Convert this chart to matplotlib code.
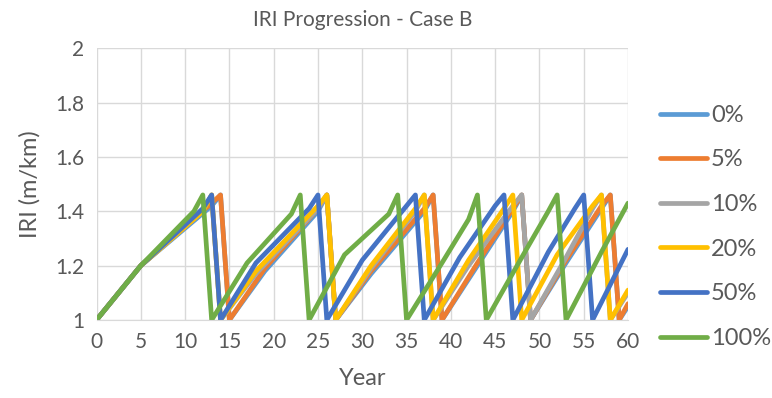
import matplotlib
matplotlib.use("Agg")
import matplotlib.pyplot as plt

# IRI progression per traffic growth scenario
labels = ["0%", "5%", "10%", "20%", "50%", "100%"]
colors = ["#5B9BD5", "#ED7D31", "#A5A5A5", "#FFC000", "#4472C4", "#70AD47"]

yr_0 = [0, 5, 13, 14, 15, 19, 25, 26, 27, 31, 37, 38, 39, 43, 47, 48, 49, 53, 57, 58, 59, 60]
iri_0 = [1.0, 1.2, 1.42, 1.46, 1.0, 1.18, 1.40, 1.46, 1.0, 1.17, 1.40, 1.46, 1.0, 1.20, 1.40, 1.46,
         1.0, 1.21, 1.41, 1.46, 1.0, 1.05]

yr_5 = [0, 5, 13, 14, 15, 19, 25, 26, 27, 31, 37, 38, 39, 43, 47, 48, 49, 53, 57, 58, 59, 60]
iri_5 = [1.0, 1.2, 1.43, 1.46, 1.0, 1.19, 1.41, 1.46, 1.0, 1.18, 1.41, 1.46, 1.0, 1.21, 1.41, 1.46,
         1.0, 1.22, 1.42, 1.46, 1.0, 1.06]

yr_10 = [0, 5, 12, 13, 14, 18, 25, 26, 27, 31, 36, 37, 38, 42, 47, 48, 49, 53, 56, 57, 58, 60]
iri_10 = [1.0, 1.2, 1.40, 1.46, 1.0, 1.17, 1.41, 1.46, 1.0, 1.19, 1.40, 1.46, 1.0, 1.20, 1.42, 1.46,
          1.0, 1.23, 1.41, 1.46, 1.0, 1.10]

yr_20 = [0, 5, 12, 13, 14, 18, 25, 26, 27, 31, 36, 37, 38, 42, 46, 47, 48, 52, 56, 57, 58, 60]
iri_20 = [1.0, 1.2, 1.40, 1.46, 1.0, 1.18, 1.42, 1.46, 1.0, 1.20, 1.41, 1.46, 1.0, 1.22, 1.41, 1.46,
          1.0, 1.24, 1.42, 1.46, 1.0, 1.11]

yr_50 = [0, 5, 12, 13, 14, 18, 24, 25, 26, 30, 35, 36, 37, 41, 45, 46, 47, 51, 54, 55, 56, 60]
iri_50 = [1.0, 1.2, 1.41, 1.46, 1.0, 1.21, 1.41, 1.46, 1.0, 1.22, 1.42, 1.46, 1.0, 1.23, 1.42, 1.46,
          1.0, 1.25, 1.41, 1.46, 1.0, 1.26]

yr_100 = [0, 5, 11, 12, 13, 17, 22, 23, 24, 28, 33, 34, 35, 39, 42, 43, 44, 48, 51, 52, 53, 57, 60]
iri_100 = [1.0, 1.2, 1.40, 1.46, 1.0, 1.21, 1.39, 1.46, 1.0, 1.24, 1.39, 1.46, 1.0, 1.21, 1.37, 1.46,
           1.0, 1.23, 1.40, 1.46, 1.0, 1.25, 1.43]

years = [yr_0, yr_5, yr_10, yr_20, yr_50, yr_100]
iri = [iri_0, iri_5, iri_10, iri_20, iri_50, iri_100]

plt.rcParams['font.family'] = ['Lato', 'DejaVu Sans']
text_col = "#595959"

fig = plt.figure(figsize=(7.72, 3.98), dpi=100)
ax = fig.add_axes([0.125, 0.196, 0.6885, 0.683])

for x, y, c, lab in zip(years, iri, colors, labels):
    ax.plot(x, y, color=c, lw=3.4, label=lab, solid_joinstyle='round', solid_capstyle='round')

ax.set_xlim(0, 60)
ax.set_ylim(1, 2)
ax.set_xticks(range(0, 61, 5))
ax.set_yticks([1, 1.2, 1.4, 1.6, 1.8, 2])
ax.set_yticklabels(["1", "1.2", "1.4", "1.6", "1.8", "2"])
ax.grid(True, color="#D9D9D9", lw=1)
ax.set_axisbelow(True)
for s in ["top", "right", "left"]:
    ax.spines[s].set_visible(False)
ax.spines["bottom"].set_color("#D9D9D9")
ax.tick_params(length=0, labelsize=15, colors=text_col, pad=9)

ax.set_title("IRI Progression - Case B", fontsize=15, color=text_col, pad=16)
ax.set_xlabel("Year", fontsize=17, color=text_col, labelpad=11)
ax.set_ylabel("IRI (m/km)", fontsize=17, color=text_col, labelpad=10)

fig.legend(loc="center left", bbox_to_anchor=(0.855, 0.43), frameon=False, fontsize=17,
           handlelength=2.0, handletextpad=0.15, labelspacing=1.0, borderpad=0, borderaxespad=0,
           labelcolor=text_col)

fig.savefig("out.png", dpi=100)
